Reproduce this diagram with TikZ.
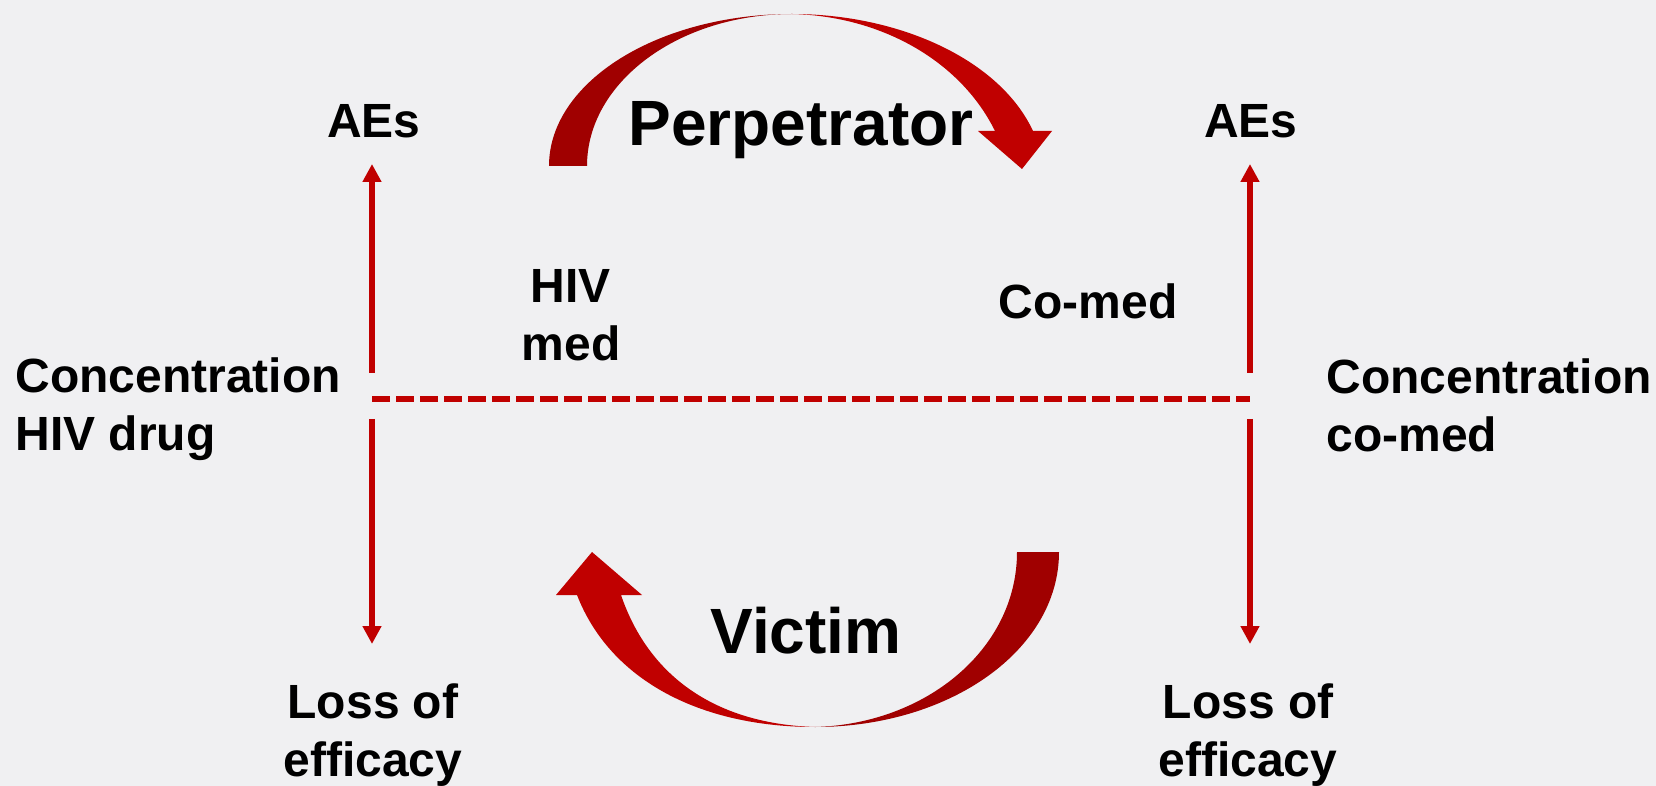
\documentclass[tikz,border=0pt]{standalone}
\usepackage{fontspec}
\setmainfont{Liberation Sans}
\usetikzlibrary{arrows.meta}
\definecolor{bg}{RGB}{240,240,242}
\definecolor{bright}{RGB}{192,0,0}
\definecolor{dark}{RGB}{160,0,0}

\begin{document}
\begin{tikzpicture}[x=0.5pt,y=-0.5pt,
  txt/.style={font=\bfseries\fontsize{24}{29}\selectfont, align=center, inner sep=0pt},
  big/.style={font=\bfseries\fontsize{32}{38}\selectfont, inner sep=0pt},
  link/.style={draw=bright, line width=2.8pt, -{Triangle[width=9pt,length=9pt]}},
  level/.style={draw=bright, line width=2.8pt, dash pattern=on 8.85pt off 3.15pt},
]
\fill[bg] (0,0) rectangle (1656,786);
\useasboundingbox (0,0) rectangle (1656,786);

% labels
\node[txt] (aesL) at (374,121) {AEs};
\node[txt] (aesR) at (1251,121) {AEs};
\node[txt] (hiv) at (571,315) {HIV\\med};
\node[txt] (comed) at (1088,301) {Co-med};
\node[txt, align=left, anchor=west] (concL) at (15,409) {Concentration\\HIV drug};
\node[txt, align=left, anchor=west] (concR) at (1326,405) {Concentration\\co-med};
\node[txt] (lossL) at (373,735) {Loss of\\efficacy};
\node[txt] (lossR) at (1248,735) {Loss of\\efficacy};
\node[big, anchor=base] (perp) at (801,146) {Perpetrator};
\node[big, anchor=base] (vict) at (806,653) {Victim};

% concentration level and the effect arrows
\coordinate (lvlL) at (372,399);
\coordinate (lvlR) at (1250,399);
\coordinate (upL0) at (372,373);
\coordinate (upL1) at (372,164);
\coordinate (dnL0) at (372,419);
\coordinate (dnL1) at (372,644);
\coordinate (upR0) at (1250,373);
\coordinate (upR1) at (1250,164);
\coordinate (dnR0) at (1250,419);
\coordinate (dnR1) at (1250,644);
\draw[level] (lvlL) -- (lvlR);
\draw[link] (upL0) -- (upL1);
\draw[link] (dnL0) -- (dnL1);
\draw[link] (upR0) -- (upR1);
\draw[link] (dnR0) -- (dnR1);

% perpetrator arc: tail half
\fill[dark] (549,166) .. controls (549,82) and (658,14) .. (792,14)
  .. controls (679,14) and (587,82) .. (587,166) -- cycle;
% perpetrator arc: head half
\fill[bright] (792,14) .. controls (900,14) and (1000,60) .. (1033,131)
  -- (1052,131) -- (1022,169) -- (978,131) -- (995,131)
  .. controls (960,60) and (880,16) .. (792,14) -- cycle;

% victim arc: tail half
\fill[dark] (1017,552) -- (1059,552) .. controls (1059,650) and (950,727) .. (815,727)
  .. controls (926,724) and (1017,649) .. (1017,552) -- cycle;
% victim arc: head half
\fill[bright] (815,727) .. controls (700,727) and (610,680) .. (577,595)
  -- (556,595) -- (592,552) -- (642,595) -- (621,595)
  .. controls (650,680) and (720,724) .. (815,727) -- cycle;
\end{tikzpicture}
\end{document}
